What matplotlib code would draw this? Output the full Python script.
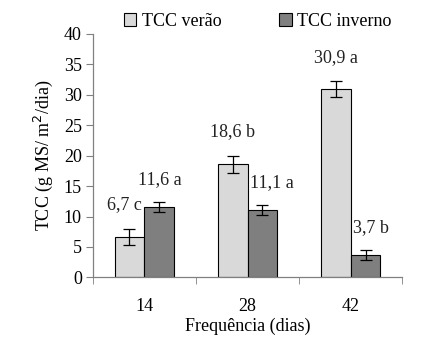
import numpy as np
import matplotlib
matplotlib.use("Agg")
import matplotlib.pyplot as plt
from matplotlib.patches import Patch

# data
frequencias = ["14", "28", "42"]
tcc_verao = [6.7, 18.6, 30.9]
tcc_inverno = [11.6, 11.1, 3.7]
erro_verao = [1.3, 1.4, 1.3]
erro_inverno = [0.8, 0.85, 0.85]
rotulos_verao = ["6,7 c", "18,6 b", "30,9 a"]
rotulos_inverno = ["11,6 a", "11,1 a", "3,7 b"]

plt.rcParams["font.family"] = ["Liberation Serif", "DejaVu Serif"]
plt.rcParams["font.size"] = 13

cor_verao = "#d9d9d9"
cor_inverno = "#7f7f7f"
eixo_cor = "#808080"
texto_cor = "#222222"

fig = plt.figure(figsize=(4.26, 3.57), dpi=100)
ax = fig.add_axes([0.218, 0.223, 0.726, 0.682])

x = np.arange(len(frequencias))
w = 0.29
ax.bar(x - w / 2, tcc_verao, w, color=cor_verao, edgecolor="black", linewidth=0.8,
       yerr=erro_verao, capsize=4, error_kw=dict(elinewidth=0.9, capthick=0.9))
ax.bar(x + w / 2, tcc_inverno, w, color=cor_inverno, edgecolor="black", linewidth=0.8,
       yerr=erro_inverno, capsize=4, error_kw=dict(elinewidth=0.9, capthick=0.9))

# labels above the error bars; small horizontal nudges as in the original
dx_verao = [-0.05, 0.0, 0.0]
dx_inverno = [0.0, 0.09, 0.05]
for i in range(len(x)):
    yv = tcc_verao[i] + erro_verao[i] + 3.9
    yi = tcc_inverno[i] + erro_inverno[i] + 3.7
    ax.text(x[i] - w / 2 + dx_verao[i], yv, rotulos_verao[i], ha="center", va="center",
            color=texto_cor)
    ax.text(x[i] + w / 2 + dx_inverno[i], yi, rotulos_inverno[i], ha="center", va="center",
            color=texto_cor)

ax.set_xlim(-0.5, 2.5)
ax.set_ylim(0, 40)
ax.set_yticks(range(0, 41, 5))
ax.set_xticks(x)
ax.set_xticklabels(frequencias)
ax.set_xticks([-0.5, 0.5, 1.5, 2.5], minor=True)
ax.tick_params(axis="x", which="major", length=0, pad=15)
ax.tick_params(axis="x", which="minor", length=5, color=eixo_cor, direction="out")
ax.tick_params(axis="y", length=5, color=eixo_cor, direction="out", pad=3)

for s in ["top", "right"]:
    ax.spines[s].set_visible(False)
for s in ["left", "bottom"]:
    ax.spines[s].set_color(eixo_cor)
    ax.spines[s].set_linewidth(0.9)

ax.set_xlabel("Frequência (dias)", labelpad=2)
ax.set_ylabel("TCC (g MS/ m$^2$/dia)", labelpad=6)

handles = [Patch(facecolor=cor_verao, edgecolor="black", linewidth=0.8, label="TCC verão"),
           Patch(facecolor=cor_inverno, edgecolor="black", linewidth=0.8, label="TCC inverno")]
fig.legend(handles=handles, loc="upper center", bbox_to_anchor=(0.605, 1.01), ncol=2,
           frameon=False, handlelength=0.7, handleheight=0.7, handletextpad=0.3,
           columnspacing=3.2)

fig.savefig("out.png", dpi=100)
